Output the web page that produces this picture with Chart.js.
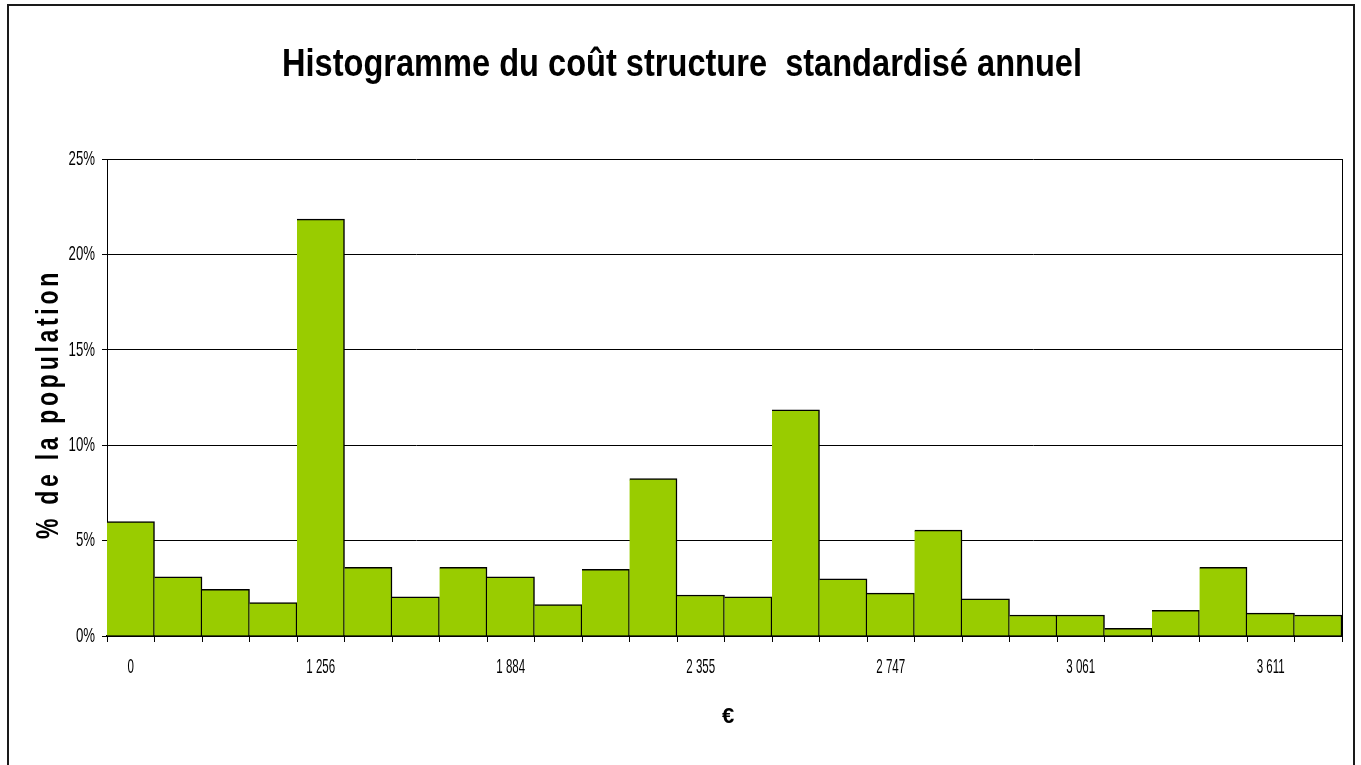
<!DOCTYPE html>
<html lang="fr">
<head>
<meta charset="utf-8">
<title>Histogramme du coût structure standardisé annuel</title>
<script src="https://cdn.jsdelivr.net/npm/chart.js@4.4.1/dist/chart.umd.min.js"></script>
<style>
  html, body { margin: 0; padding: 0; background: #fff; }
  #wrap { position: relative; width: 1361px; height: 765px; }
</style>
</head>
<body>
<div id="wrap"><canvas id="histo"></canvas></div>
<script>
// classes de coût (une étiquette toutes les 4 barres)
const classes = ['0', '', '', '', '1 256', '', '', '', '1 884', '', '', '', '2 355', '', '', '', '2 747', '', '', '', '3 061', '', '', '', '3 611', ''];
// % de la population par classe
const parts = [6.0, 3.1, 2.45, 1.75, 21.85, 3.6, 2.05, 3.6, 3.1, 1.65, 3.5, 8.25, 2.15, 2.05, 11.85, 3.0, 2.25, 5.55, 1.95, 1.1, 1.1, 0.4, 1.35, 3.6, 1.2, 1.1];
const yTicks = [0, 5, 10, 15, 20, 25];

const titre = 'Histogramme du coût structure  standardisé annuel';
const titreY = '% de la population';
const titreX = '€';

const police = '"Liberation Sans", Arial, sans-serif';

// texte resserré horizontalement (police étroite du graphique d'origine)
function texte(ctx, txt, x, y, font, sx, align, rot, spacing) {
  ctx.save();
  ctx.font = font;
  ctx.letterSpacing = spacing || '0px';
  ctx.textAlign = align;
  ctx.textBaseline = 'middle';
  ctx.translate(x, y);
  if (rot) ctx.rotate(rot);
  ctx.scale(sx, 1);
  ctx.fillText(txt, 0, 0);
  ctx.restore();
}

function largeur(ctx, txt, font, spacing) {
  ctx.save();
  ctx.font = font;
  ctx.letterSpacing = spacing || '0px';
  const w = ctx.measureText(txt).width;
  ctx.restore();
  return w;
}

const decor = {
  id: 'decor',
  afterDraw(chart) {
    const { ctx, chartArea: a, scales: { x, y } } = chart;
    ctx.save();
    // cadre extérieur
    ctx.strokeStyle = '#1a1a1a';
    ctx.lineWidth = 2;
    ctx.strokeRect(8, 5, 1346, 775);
    // bord droit de la zone de tracé
    ctx.strokeStyle = '#000';
    ctx.lineWidth = 1;
    ctx.beginPath();
    ctx.moveTo(a.right + 0.5, a.top);
    ctx.lineTo(a.right + 0.5, a.bottom);
    ctx.stroke();
    ctx.fillStyle = '#000';

    // titre
    const fT = 'bold 39px ' + police;
    texte(ctx, titre, 682, 65, fT, 800 / largeur(ctx, titre, fT), 'center');

    // étiquettes de l'axe y
    const fY = '21px ' + police;
    yTicks.forEach(v => texte(ctx, v + '%', 95, y.getPixelForValue(v), fY, 0.63, 'right'));

    // étiquettes de l'axe x
    const fX = '21px ' + police;
    classes.forEach((c, i) => {
      if (c) texte(ctx, c, x.getPixelForValue(i), 667, fX, 0.55, 'center');
    });

    // titres des axes
    const fA = 'bold 31px ' + police;
    const w = largeur(ctx, titreY, fA, '5px');
    texte(ctx, titreY, 49, 404, fA, 270 / w, 'center', -Math.PI / 2, '5px');
    texte(ctx, titreX, 728, 717, 'bold 22px ' + police, 1, 'center');
    ctx.restore();
  }
};

new Chart(document.getElementById('histo'), {
  type: 'bar',
  data: {
    labels: classes,
    datasets: [{
      data: parts,
      backgroundColor: '#99CC00',
      borderColor: '#000',
      borderWidth: { top: 1.5, right: 1.5, left: 0, bottom: 0 },
      categoryPercentage: 1,
      barPercentage: 1
    }]
  },
  options: {
    responsive: true,
    maintainAspectRatio: false,
    animation: false,
    layout: { padding: { left: 102, right: 19, top: 159, bottom: 123 } },
    plugins: {
      legend: { display: false },
      tooltip: { enabled: false },
      title: { display: false }
    },
    scales: {
      x: {
        grid: { offset: true, drawOnChartArea: false, drawTicks: true, tickLength: 6, color: '#000' },
        border: { color: '#000', width: 2 },
        ticks: { display: false, autoSkip: false }
      },
      y: {
        min: 0,
        max: 25,
        ticks: { stepSize: 5, display: false },
        grid: { color: '#000', lineWidth: 1, tickLength: 5 },
        border: { color: '#000', width: 1 }
      }
    }
  },
  plugins: [decor]
});
</script>
</body>
</html>
